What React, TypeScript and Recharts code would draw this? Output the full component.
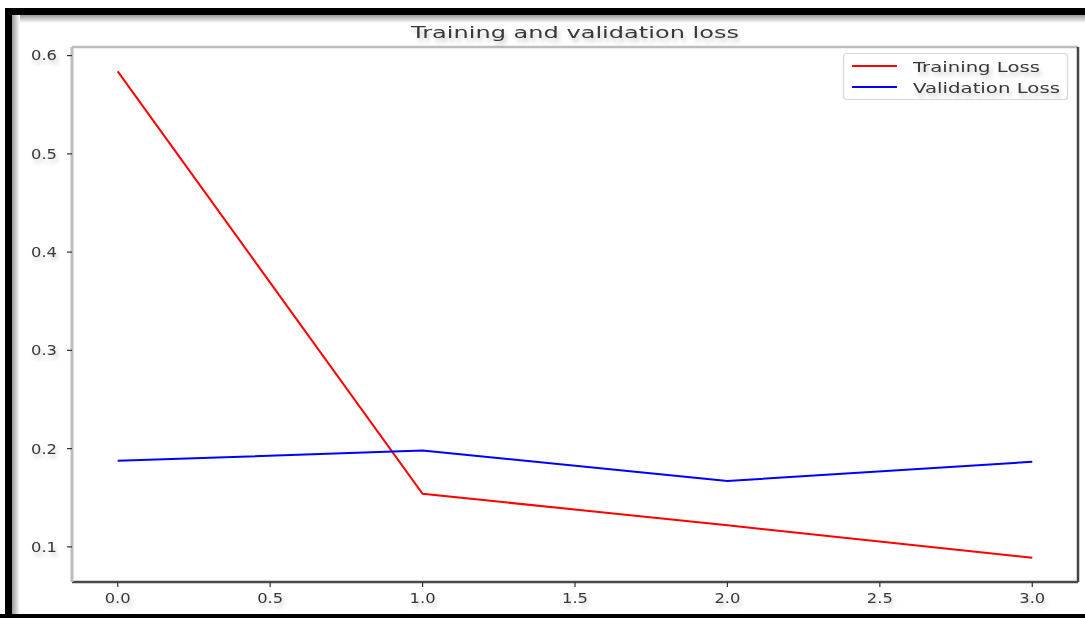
import React from 'react';
import { LineChart, Line, XAxis, YAxis, Legend, ReferenceLine } from 'recharts';

// ---- data ----
const epochs = [0, 1, 2, 3];
const trainingLoss = [0.584, 0.154, 0.122, 0.089];
const validationLoss = [0.1876, 0.198, 0.167, 0.1866];
const xTicks = [0, 0.5, 1, 1.5, 2, 2.5, 3];
const xTickLabels = ['0.0', '0.5', '1.0', '1.5', '2.0', '2.5', '3.0'];
const yTicks = [0.1, 0.2, 0.3, 0.4, 0.5, 0.6];
const yTickLabels = ['0.1', '0.2', '0.3', '0.4', '0.5', '0.6'];
const chartTitle = 'Training and validation loss';
const seriesNames = ['Training Loss', 'Validation Loss'];

const data = epochs.map((e, i) => ({ epoch: e, train: trainingLoss[i], val: validationLoss[i] }));

// matplotlib-style 5% margins
const allVals = [...trainingLoss, ...validationLoss];
const yMin = Math.min(...allVals);
const yMax = Math.max(...allVals);
const yPad = (yMax - yMin) * 0.05;
const yDomain: [number, number] = [yMin - yPad, yMax + yPad];
const xPad = (epochs[epochs.length - 1] - epochs[0]) * 0.05;
const xDomain: [number, number] = [epochs[0] - xPad, epochs[epochs.length - 1] + xPad];

// ---- style ----
const FONT = '"DejaVu Sans", sans-serif';
const TEXT = '#383838';
const TICK_FONT = 13.5;
const TICK_LABEL_W = 26;
const legendTextWidths = [127, 147];

const YTick = (props: any) => {
  const { x, y, index } = props;
  return (
    <text
      x={x}
      y={y + 4.9}
      textAnchor="end"
      fontFamily={FONT}
      fontSize={TICK_FONT}
      fill={TEXT}
      textLength={TICK_LABEL_W}
      lengthAdjust="spacingAndGlyphs"
      filter="url(#tshadow)"
    >
      {yTickLabels[index]}
    </text>
  );
};

const XTick = (props: any) => {
  const { x, y, index } = props;
  return (
    <text
      x={x}
      y={y + 10}
      textAnchor="middle"
      fontFamily={FONT}
      fontSize={TICK_FONT}
      fill={TEXT}
      textLength={TICK_LABEL_W}
      lengthAdjust="spacingAndGlyphs"
      filter="url(#tshadow)"
    >
      {xTickLabels[index]}
    </text>
  );
};

const LegendBox = (props: any) => {
  const payload = props.payload || [];
  return (
    <svg width={225} height={47} style={{ display: 'block', overflow: 'visible' }}>
      <rect x={0.5} y={0.5} width={224} height={46} rx={3} fill="#fff" stroke="#d6d6d6" strokeWidth={1.2} />
      {payload.map((p: any, i: number) => (
        <g key={i}>
          <line x1={9} x2={54} y1={13 + i * 21} y2={13 + i * 21} stroke={p.color} strokeWidth={2} />
          <text
            x={70}
            y={18.5 + i * 21}
            fontFamily={FONT}
            fontSize={TICK_FONT}
            fill={TEXT}
            textLength={legendTextWidths[i]}
            lengthAdjust="spacingAndGlyphs"
            filter="url(#tshadow)"
          >
            {p.value}
          </text>
        </g>
      ))}
    </svg>
  );
};

export default function App() {
  return (
    <div
      style={{
        position: 'absolute',
        left: 0,
        top: 0,
        width: 1085,
        height: 618,
        background: '#fff',
        fontFamily: FONT,
        overflow: 'hidden',
      }}
    >
      <svg width={1085} height={618} style={{ position: 'absolute', left: 0, top: 0 }}>
        <defs>
          <filter id="tshadow" x="-30%" y="-60%" width="160%" height="260%">
            <feGaussianBlur in="SourceAlpha" stdDeviation="2" result="b" />
            <feOffset in="b" dx="2" dy="4" result="o" />
            <feComponentTransfer in="o" result="s">
              <feFuncA type="linear" slope="0.22" />
            </feComponentTransfer>
            <feGaussianBlur in="SourceGraphic" stdDeviation="0.45" result="g" />
            <feMerge>
              <feMergeNode in="s" />
              <feMergeNode in="g" />
            </feMerge>
          </filter>
          <linearGradient id="topShade" x1="0" y1="0" x2="0" y2="1">
            <stop offset="0" stopColor="#9a9a9a" />
            <stop offset="1" stopColor="#ffffff" />
          </linearGradient>
          <linearGradient id="leftShade" x1="0" y1="0" x2="1" y2="0">
            <stop offset="0" stopColor="#9a9a9a" />
            <stop offset="1" stopColor="#ffffff" />
          </linearGradient>
        </defs>
        <rect x={12} y={15} width={1073} height={8} fill="url(#topShade)" />
        <rect x={12} y={15} width={8} height={603} fill="url(#leftShade)" />
      </svg>
      <div style={{ position: 'absolute', left: 0, top: 0 }}>
        <LineChart width={1085} height={618} data={data} margin={{ top: 47, right: 7, bottom: 6, left: 12 }}>
          <XAxis
            dataKey="epoch"
            type="number"
            domain={xDomain}
            ticks={xTicks}
            allowDataOverflow
            height={30}
            tickSize={5}
            tickMargin={6}
            axisLine={{ stroke: '#4a4a4a', strokeWidth: 2.5 }}
            tickLine={{ stroke: '#333', strokeWidth: 1.2 }}
            tick={<XTick />}
          />
          <YAxis
            type="number"
            domain={yDomain}
            ticks={yTicks}
            allowDataOverflow
            width={60}
            tickSize={5}
            tickMargin={10}
            axisLine={{ stroke: '#bdbdbd', strokeWidth: 3 }}
            tickLine={{ stroke: '#333', strokeWidth: 1.2 }}
            tick={<YTick />}
          />
          <ReferenceLine y={yDomain[1]} stroke="#bdbdbd" strokeWidth={2.5} ifOverflow="visible" />
          <ReferenceLine x={xDomain[1]} stroke="#444" strokeWidth={2.5} ifOverflow="visible" />
          <Legend
            layout="horizontal"
            verticalAlign="middle"
            align="center"
            wrapperStyle={{ left: 843, top: 53, width: 225, height: 47 }}
            content={<LegendBox />}
          />
          <Line
            dataKey="train"
            name={seriesNames[0]}
            stroke="#ff0000"
            strokeWidth={2}
            dot={false}
            activeDot={false}
            isAnimationActive={false}
          />
          <Line
            dataKey="val"
            name={seriesNames[1]}
            stroke="#0000ff"
            strokeWidth={2}
            dot={false}
            activeDot={false}
            isAnimationActive={false}
          />
        </LineChart>
      </div>
      <svg width={1085} height={618} style={{ position: 'absolute', left: 0, top: 0, pointerEvents: 'none' }}>
        <rect x={5} y={8} width={1080} height={7} fill="#000" />
        <rect x={5} y={8} width={7} height={610} fill="#000" />
        <rect x={0} y={614} width={1085} height={4} fill="#000" />
        <text
          x={575}
          y={37.5}
          textAnchor="middle"
          fontFamily={FONT}
          fontSize={15.5}
          fill={TEXT}
          textLength={328}
          lengthAdjust="spacingAndGlyphs"
          filter="url(#tshadow)"
        >
          {chartTitle}
        </text>
      </svg>
    </div>
  );
}
